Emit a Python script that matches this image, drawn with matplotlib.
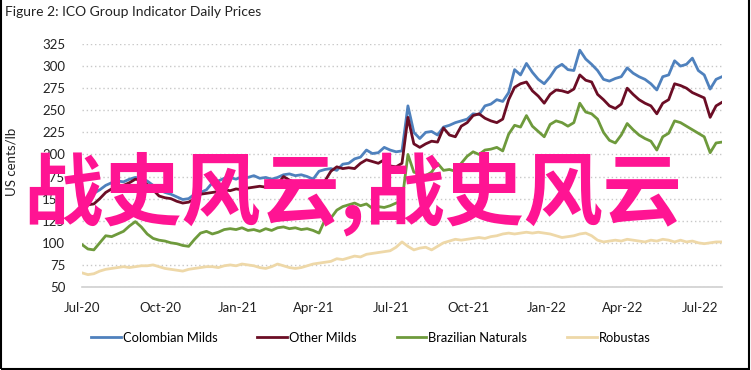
import matplotlib
matplotlib.use("Agg")
import matplotlib.pyplot as plt
import matplotlib.dates as mdates
import pandas as pd

# weekly readings, Jul 2020 - Jul 2022 (US cents/lb)
start_date = "2020-07-01"

colombian_milds = [
    150, 148, 156, 160, 165, 168, 170, 169, 172, 174,
    173, 170, 165, 160, 157, 155, 152, 149, 150, 155,
    157, 160, 168, 170, 173, 174, 172, 175, 174, 176,
    173, 174, 172, 174, 177, 178, 176, 177, 175, 172,
    181, 183, 184, 182, 189, 190, 195, 197, 205, 201,
    202, 208, 205, 203, 204, 255, 225, 218, 225, 226,
    222, 231, 233, 236, 238, 240, 246, 245, 255, 257,
    262, 260, 270, 296, 290, 303, 293, 285, 280, 288,
    298, 302, 296, 295, 318, 308, 302, 295, 285, 283,
    286, 288, 298, 292, 288, 285, 280, 273, 288, 290,
    306, 300, 302, 309, 295, 290, 274, 285, 288,
]

other_milds = [
    145, 143, 144, 150, 157, 161, 164, 165, 168, 172,
    171, 166, 160, 153, 151, 150, 147, 145, 146, 150,
    155, 156, 157, 158, 160, 159, 161, 160, 162, 163,
    164, 163, 163, 166, 175, 171, 168, 170, 168, 167,
    167, 170, 181, 186, 184, 185, 184, 190, 194, 192,
    190, 194, 187, 186, 190, 242, 212, 208, 212, 215,
    214, 230, 222, 220, 232, 236, 244, 246, 241, 238,
    236, 240, 262, 276, 280, 282, 272, 266, 258, 268,
    273, 272, 270, 274, 290, 284, 282, 268, 262, 255,
    252, 257, 275, 268, 262, 258, 255, 246, 258, 262,
    280, 278, 275, 270, 267, 264, 242, 255, 259,
]

brazilian_naturals = [
    98, 93, 92, 100, 108, 107, 110, 113, 119, 124,
    118, 110, 105, 103, 102, 100, 99, 97, 96, 104,
    111, 113, 110, 112, 115, 116, 115, 117, 114, 115,
    113, 116, 114, 117, 118, 116, 117, 115, 116, 114,
    111, 126, 128, 137, 141, 143, 145, 142, 144, 139,
    141, 140, 142, 145, 147, 200, 180, 178, 176, 180,
    190, 182, 183, 181, 190, 198, 203, 200, 205, 206,
    208, 204, 223, 233, 231, 244, 232, 226, 220, 234,
    238, 236, 232, 236, 258, 248, 246, 240, 225, 216,
    213, 222, 235, 228, 222, 218, 215, 205, 220, 224,
    238, 236, 232, 228, 224, 220, 202, 213, 214,
]

robustas = [
    66, 64, 65, 68, 70, 71, 72, 73, 72, 73,
    74, 74, 75, 73, 71, 70, 69, 68, 70, 71,
    72, 73, 73, 72, 74, 75, 74, 76, 75, 74,
    72, 71, 73, 76, 74, 72, 71, 72, 74, 76,
    77, 78, 79, 82, 81, 83, 85, 84, 87, 88,
    89, 90, 91, 95, 101, 96, 92, 94, 95, 92,
    96, 100, 102, 104, 103, 104, 105, 106, 105, 107,
    108, 110, 111, 110, 111, 112, 111, 112, 111, 110,
    108, 106, 107, 108, 110, 111, 108, 103, 101, 102,
    103, 102, 104, 103, 102, 101, 103, 102, 104, 103,
    101, 103, 101, 102, 100, 99, 100, 101, 101,
]

series_names = ["Colombian Milds", "Other Milds", "Brazilian Naturals", "Robustas"]
series_colors = ["#4f81bd", "#6b0d25", "#6e9a3c", "#eed8a8"]
y_ticks = [50, 75, 100, 125, 150, 175, 200, 225, 250, 275, 300, 325]

dates = pd.date_range(start_date, periods=len(colombian_milds), freq="7D")

plt.rcParams["font.family"] = ["Lato", "DejaVu Sans"]

fig = plt.figure(figsize=(7.51, 3.70), dpi=100)
ax = fig.add_axes([82 / 751, 1 - 287 / 370, (722 - 82) / 751, (287 - 44) / 370])

for vals, name, col in zip([colombian_milds, other_milds, brazilian_naturals, robustas],
                           series_names, series_colors):
    ax.plot(dates, vals, color=col, lw=2, label=name, solid_joinstyle="round")

ax.set_ylim(50, 325)
ax.set_xlim(dates[0], dates[-1])
ax.set_yticks(y_ticks)
ax.yaxis.grid(True, color="#c8c8c8", linestyle=(0, (1, 2)), lw=1)
ax.set_axisbelow(True)
for s in ["top", "right", "left"]:
    ax.spines[s].set_visible(False)
ax.spines["bottom"].set_color("#d0d0d0")
ax.spines["bottom"].set_linewidth(1.2)
ax.tick_params(length=0, labelsize=9.5, colors="#222222")
ax.tick_params(axis="x", pad=11)
ax.tick_params(axis="y", pad=12)
ax.xaxis.set_major_locator(mdates.MonthLocator(bymonth=[1, 4, 7, 10]))
ax.xaxis.set_major_formatter(mdates.DateFormatter("%b-%y"))
ax.set_ylabel("US cents/lb", fontsize=9.5, color="#222222")
ax.yaxis.set_label_coords(-0.101, 0.514)

fig.legend(loc="center", bbox_to_anchor=(0.494, 1 - 338 / 370), ncol=4, frameon=False,
           fontsize=9.3, handlelength=2.3, handletextpad=0.15, columnspacing=3.1)

fig.text(5 / 751, 1 - 12 / 370, "Figure 2: ICO Group Indicator Daily Prices",
         fontsize=10, va="center", ha="left", color="#222222")

# watermark over the plot
fig.text(0.469, 1 - 194 / 370, "战史风云,战史风云", fontsize=57, color="#ff1493",
         ha="center", va="center", family=["Noto Sans CJK SC", "DejaVu Sans"],
         weight="bold", zorder=10)

fig.patches.append(plt.Rectangle((0.001, 0.002), 0.996, 1.2, transform=fig.transFigure,
                                 fill=False, ec="black", lw=1.5))

fig.savefig("out.png", dpi=100)
